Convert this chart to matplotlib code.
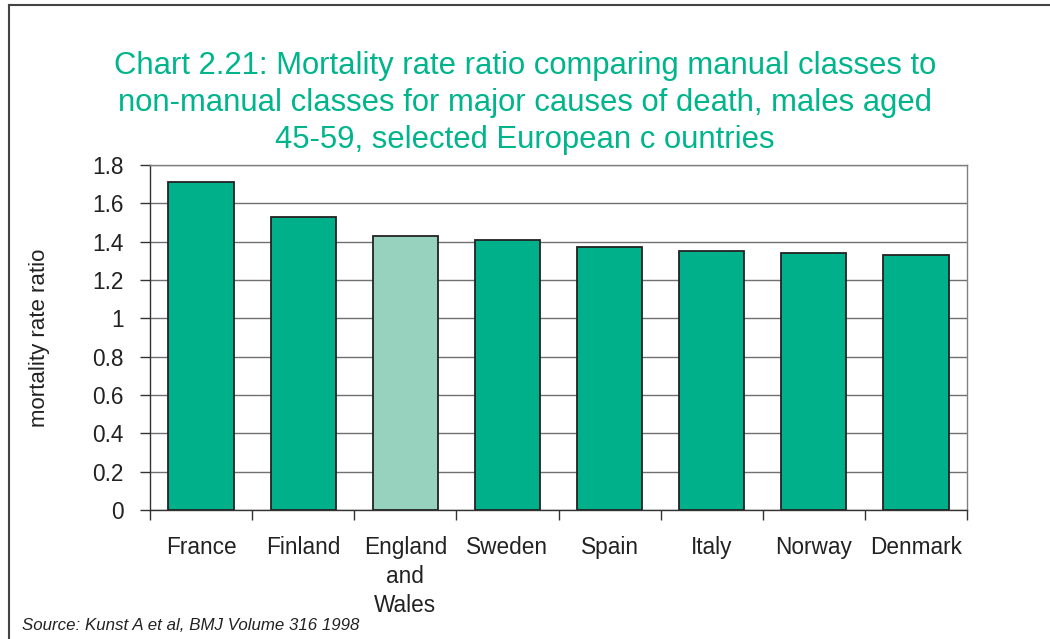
import matplotlib
matplotlib.use("Agg")
import matplotlib.pyplot as plt
from matplotlib.lines import Line2D
from matplotlib.ticker import FixedLocator

# === Données ===
countries = ["France", "Finland", "England\nand\nWales", "Sweden", "Spain",
             "Italy", "Norway", "Denmark"]
ratios = [1.71, 1.53, 1.43, 1.41, 1.37, 1.35, 1.34, 1.33]
highlight = "England\nand\nWales"
yticks = [0, 0.2, 0.4, 0.6, 0.8, 1, 1.2, 1.4, 1.6, 1.8]

TITLE = ("Chart 2.21: Mortality rate ratio comparing manual classes to\n"
         "non-manual classes for major causes of death, males aged\n"
         "45-59, selected European c ountries")
SOURCE = "Source: Kunst A et al, BMJ Volume 316 1998"

TEAL = "#00B08A"
LIGHT = "#96D2BE"

plt.rcParams["font.family"] = ["Liberation Sans", "DejaVu Sans"]

fig = plt.figure(figsize=(10.5, 6.39), dpi=100)
ax = fig.add_axes([150 / 1050, 1 - 510 / 639, (967 - 150) / 1050, (510 - 165) / 639])

# --- Barres ---
colors = [LIGHT if c == highlight else TEAL for c in countries]
x = range(len(countries))
ax.bar(x, ratios, width=0.64, color=colors, edgecolor="#222222", linewidth=1.3, zorder=3)

# --- Axes ---
ax.set_xlim(-0.5, len(countries) - 0.5)
ax.set_ylim(0, 1.8)
ax.set_yticks(yticks)
ax.set_yticklabels(["%g" % v for v in yticks])
ax.set_xticks(list(x))
ax.set_xticklabels(countries, linespacing=1.33)
ax.xaxis.set_minor_locator(FixedLocator([i - 0.5 for i in range(len(countries) + 1)]))
ax.tick_params(axis="x", which="major", length=0, pad=18.5, labelsize=16.3, colors="#222222")
ax.tick_params(axis="x", which="minor", length=7, width=1, color="#333333")
ax.tick_params(axis="y", length=7, width=1, pad=12, labelsize=16.3, color="#333333",
               labelcolor="#222222")
ax.yaxis.grid(True, color="#707070", linewidth=1, zorder=0)
ax.set_axisbelow(True)

for side in ["left", "bottom"]:
    ax.spines[side].set_color("#333333")
    ax.spines[side].set_linewidth(1)
for side in ["top", "right"]:
    ax.spines[side].set_color("#808080")
    ax.spines[side].set_linewidth(1)

ax.set_ylabel("mortality rate ratio", fontsize=16, color="#222222", labelpad=30)

# --- Titre et source ---
fig.text(0.5, 1 - 103 / 639, TITLE, ha="center", va="center", fontsize=22.3,
         color="#00B48C", linespacing=1.3)
fig.text(22 / 1050, 1 - 626 / 639, SOURCE, ha="left", va="center", fontsize=12.2,
         style="italic", color="#222222")

# --- Cadre de la figure ---
fig.add_artist(Line2D([9 / 1050, 9 / 1050], [0, 1 - 5 / 639], transform=fig.transFigure,
                      color="#444444", linewidth=1.5))
fig.add_artist(Line2D([9 / 1050, 1], [1 - 5 / 639, 1 - 5 / 639], transform=fig.transFigure,
                      color="#444444", linewidth=1.5))

fig.savefig("out.png", dpi=100)
